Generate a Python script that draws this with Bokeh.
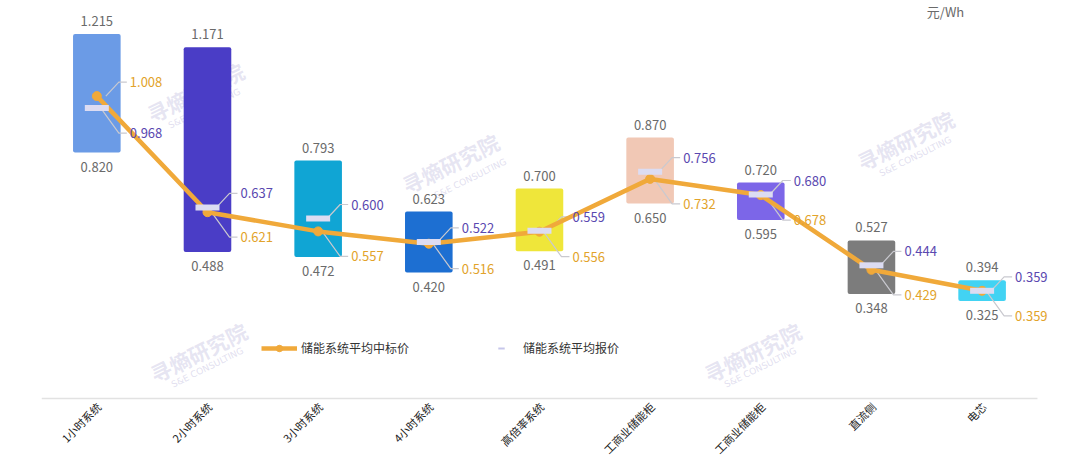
import math
from bokeh.plotting import figure
from bokeh.models import ColumnDataSource, Legend, LegendItem, Range1d
from bokeh.core.properties import value
from bokeh.embed import file_html
from bokeh.resources import INLINE

# ---------------- data ----------------
categories = ["1小时系统", "2小时系统", "3小时系统", "4小时系统", "高倍率系统",
              "工商业储能柜", "工商业储能柜", "直流侧", "电芯"]
range_high = [1.215, 1.171, 0.793, 0.623, 0.700, 0.870, 0.720, 0.527, 0.394]
range_low = [0.820, 0.488, 0.472, 0.420, 0.491, 0.650, 0.595, 0.348, 0.325]
avg_quote = [0.968, 0.637, 0.600, 0.522, 0.559, 0.756, 0.680, 0.444, 0.359]   # 储能系统平均报价
avg_bid = [1.008, 0.621, 0.557, 0.516, 0.556, 0.732, 0.678, 0.429, 0.359]     # 储能系统平均中标价
bar_colors = ["#6b9be6", "#4a3dc6", "#10a5d4", "#1d6fd2", "#efe63a",
              "#f1c8b5", "#7c66e8", "#7c7c7c", "#42d3f3"]
bid_name = "储能系统平均中标价"
quote_name = "储能系统平均报价"
unit_text = "元/Wh"
wm_cn = "寻熵研究院"
wm_en = "S&E CONSULTING"

# ---------------- style / layout ----------------
FONT = "Noto Sans CJK SC"
W, H = 1064, 459
ML, MR = 41, 16            # frame spans x 41..1048 and the whole height
N = len(categories)
PY = 300.0                 # pixels per value unit
ZERO_PX = 398              # pixel row of value 0
Y_START = -(H - ZERO_PX) / PY
Y_END = ZERO_PX / PY
X_PAD = 0.1                # extra room on the right of the last category
PX = (W - ML - MR) / (N + X_PAD)
ORANGE = "#f0a93a"
ORANGE_TXT = "#e2a32a"
PURPLE_TXT = "#5a48b0"
QUOTE_FILL = "#dcdcf2"
GRAY_TXT = "#6a6a6a"
LEADER = "#c9c9cf"


def dx(px):
    return px / PX


def dy(px):
    return px / PY


def to_data(px, py):
    return (px - ML) / PX, (ZERO_PX - py) / PY


xs = [i + 0.5 for i in range(N)]

p = figure(width=W, height=H, x_range=Range1d(0, N + X_PAD),
           y_range=Range1d(Y_START, Y_END),
           output_backend="svg", toolbar_location=None,
           min_border_left=ML, min_border_right=MR, min_border_top=0,
           min_border_bottom=0)
p.outline_line_color = None
p.background_fill_color = "white"
p.border_fill_color = "white"
p.grid.visible = False
p.xaxis.visible = False
p.yaxis.visible = False

# watermarks
wm_pos_cn = [(195, 92), (450, 163), (905, 140), (198, 352), (752, 352)]
wm_pos_en = [(204, 108), (470, 178), (915, 156), (207, 367), (760, 367)]
cnx, cny = zip(*[to_data(a, b) for a, b in wm_pos_cn])
enx, eny = zip(*[to_data(a, b) for a, b in wm_pos_en])
p.text(x=list(cnx), y=list(cny), text=[wm_cn] * len(cnx), angle=0.46,
       text_font=value(FONT), text_font_size="21px", text_color="#c8c4e2",
       text_alpha=0.45, text_align="center", text_baseline="middle",
       text_font_style="bold")
p.text(x=list(enx), y=list(eny), text=[wm_en] * len(enx), angle=0.46,
       text_font=value("DejaVu Sans"), text_font_size="9px", text_color="#c8c4e2",
       text_alpha=0.55, text_align="center", text_baseline="middle")

# category axis line and labels
p.segment(x0=[0], x1=[N], y0=[0], y1=[0], line_color="#e2e2e2", line_width=1.5)
p.text(x=xs, y=[0] * N, text=categories, angle=math.radians(45), x_offset=2,
       y_offset=6, text_align="right", text_baseline="middle",
       text_font=value(FONT), text_font_size="11px", text_color="#222222")

# range bars
bars = ColumnDataSource(dict(x=xs, top=range_high, bottom=range_low, color=bar_colors,
                             hi=[f"{v:.3f}" for v in range_high],
                             lo=[f"{v:.3f}" for v in range_low]))
p.vbar(x="x", top="top", bottom="bottom", width=0.43, fill_color="color",
       line_color=None, source=bars, border_radius=2)
p.text(x="x", y="top", text="hi", source=bars, y_offset=-13, text_align="center",
       text_baseline="middle", text_font=value(FONT), text_font_size="13px",
       text_color=GRAY_TXT)
p.text(x="x", y="bottom", text="lo", source=bars, y_offset=14, text_align="center",
       text_baseline="middle", text_font=value(FONT), text_font_size="13px",
       text_color=GRAY_TXT)

# leader lines + value labels for the two averages
lead_xs, lead_ys = [], []
lab_x, lab_y, lab_t, lab_c = [], [], [], []
for i, x in enumerate(xs):
    q, b = avg_quote[i], avg_bid[i]
    if b > q:
        upper, lower = (b, ORANGE_TXT), (q, PURPLE_TXT)
    else:
        upper, lower = (q, PURPLE_TXT), (b, ORANGE_TXT)
    yu = upper[0] + dy(14)
    lead_xs.append([x + dx(9), x + dx(22), x + dx(30)])
    lead_ys.append([upper[0], yu, yu])
    lab_x.append(x + dx(33)); lab_y.append(yu)
    lab_t.append(f"{upper[0]:.3f}"); lab_c.append(upper[1])
    yl = lower[0] - dy(25)
    lead_xs.append([x + dx(4), x + dx(22), x + dx(30)])
    lead_ys.append([lower[0], yl, yl])
    lab_x.append(x + dx(33)); lab_y.append(yl)
    lab_t.append(f"{lower[0]:.3f}"); lab_c.append(lower[1])

p.multi_line(xs=lead_xs, ys=lead_ys, line_color=LEADER, line_width=1.2)

bid_line = p.line(x=xs, y=avg_bid, line_color=ORANGE, line_width=4.5, line_join="round")
bid_pts = p.scatter(x=xs, y=avg_bid, size=9, fill_color=ORANGE, line_color=ORANGE)
quote_dash = p.scatter(x=xs, y=avg_quote, marker="dash", size=9, line_color="#c6c6ea",
                       line_width=2)
p.rect(x=xs, y=avg_quote, width=24, height=6, width_units="screen",
       height_units="screen", fill_color=QUOTE_FILL, line_color=None)

p.text(x=lab_x, y=lab_y, text=lab_t, text_color=lab_c, text_align="left",
       text_baseline="middle", text_font=value(FONT), text_font_size="13px")

# unit label
ux, uy = to_data(945, 11)
p.text(x=[ux], y=[uy], text=[unit_text], text_align="center", text_baseline="middle",
       text_font=value(FONT), text_font_size="13px", text_color=GRAY_TXT)

legend = Legend(items=[LegendItem(label=bid_name, renderers=[bid_line, bid_pts]),
                       LegendItem(label=quote_name, renderers=[quote_dash])],
                orientation="horizontal", location=(220, 103),
                border_line_color=None, background_fill_alpha=0,
                label_text_font=FONT, label_text_font_size="12px",
                label_text_color="#333333", glyph_width=36, glyph_height=16,
                spacing=74, padding=0, margin=0, label_standoff=4)
p.add_layout(legend)

open("out.html", "w").write(file_html(p, INLINE))
